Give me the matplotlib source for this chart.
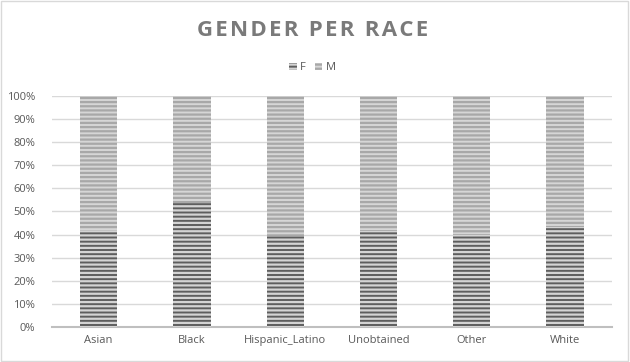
import numpy as np
import matplotlib
matplotlib.use("Agg")
import matplotlib.pyplot as plt
from matplotlib.patches import Rectangle

# === Data ===
races = ["Asian", "Black", "Hispanic_Latino", "Unobtained", "Other", "White"]
female_share = [0.42, 0.537, 0.395, 0.415, 0.403, 0.434]
male_share = [1 - f for f in female_share]
title = "GENDER PER RACE"

# === Figure ===
plt.rcParams["font.family"] = ["Open Sans", "DejaVu Sans"]
plt.rcParams["hatch.linewidth"] = 1.6

fig = plt.figure(figsize=(6.3, 3.62), dpi=100)
ax = fig.add_axes([0.0825, 0.0967, 0.8885, 0.6383])

x = np.arange(len(races))
width = 0.4
ax.bar(x, female_share, width, facecolor="#5e5e5e", edgecolor="#d4d4d4",
       hatch="----", linewidth=0, label="F", zorder=3)
ax.bar(x, male_share, width, bottom=female_share, facecolor="#d6d6d6",
       edgecolor="#a8a8a8", hatch="----", linewidth=0, label="M", zorder=3)

ax.set_xlim(-0.5, len(races) - 0.5)
ax.set_ylim(0, 1)
ax.set_yticks(np.arange(0, 1.01, 0.1))
ax.set_yticklabels([f"{int(round(v * 100))}%" for v in np.arange(0, 1.01, 0.1)])
ax.set_xticks(x)
ax.set_xticklabels(races)
ax.tick_params(axis="both", length=0, labelsize=8, colors="#595959", pad=6)
ax.tick_params(axis="y", pad=12)

ax.yaxis.grid(True, color="#d9d9d9", linewidth=1, zorder=0)
for side in ["top", "right", "left"]:
    ax.spines[side].set_visible(False)
ax.spines["bottom"].set_color("#bfbfbf")
ax.spines["bottom"].set_linewidth(1.5)

# letter-spaced title (hair space between letters)
spaced = "\u200a".join(title)
fig.text(0.497, 0.915, spaced, ha="center", va="center",
         fontsize=16, fontweight="bold", color="#7a7a7a")
ax.legend(loc="lower center", bbox_to_anchor=(0.465, 1.055), ncol=2, frameon=False,
          fontsize=8, labelcolor="#595959", handlelength=0.7, handleheight=0.6,
          handletextpad=0.3, columnspacing=0.8)

fig.patches.append(Rectangle((0.002, 0.003), 0.995, 0.994, transform=fig.transFigure,
                             fill=False, edgecolor="#d9d9d9", linewidth=1))

fig.savefig("out.png", dpi=100)
